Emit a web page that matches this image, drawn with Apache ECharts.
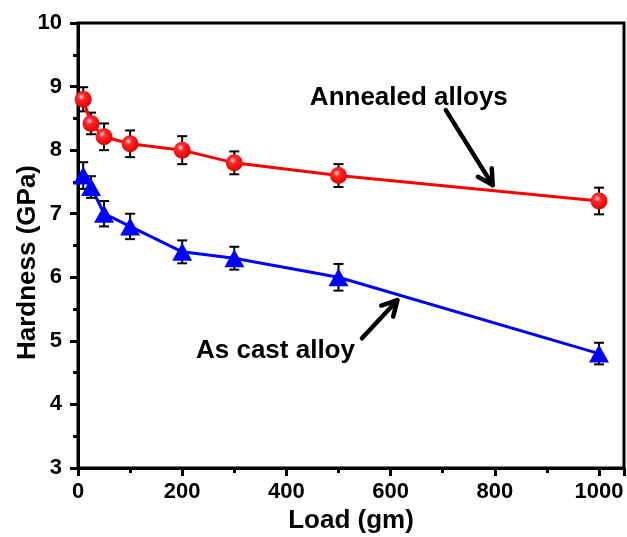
<!doctype html>
<html lang="en">
<head>
    <meta charset="UTF-8">
    <title>Hardness vs Load</title>
    <script src="https://cdn.jsdelivr.net/npm/echarts@6/dist/echarts.min.js"></script>
</head>
<body style="margin:0; background:#fff;">
<div id="main" style="width:627px; height:537px;"></div>

<script>
    // load (gm) and hardness (GPa)
    var loads = [10, 25, 50, 100, 200, 300, 500, 1000];
    var annealed = [8.8, 8.42, 8.21, 8.1, 8.0, 7.8, 7.6, 7.2];
    var annealedErr = [0.19, 0.17, 0.21, 0.21, 0.22, 0.18, 0.18, 0.21];
    var asCast = [7.6, 7.42, 7.0, 6.8, 6.4, 6.3, 6.0, 4.8];
    var asCastErr = [0.21, 0.17, 0.2, 0.2, 0.18, 0.18, 0.21, 0.17];

    // annotation arrows: [fromX, fromY, toX, toY] in data units
    var arrows = [[706, 8.63, 796, 7.45], [545, 5.04, 613, 5.64]];
    var notes = [['Annealed alloys', 635, 8.82], ['As cast alloy', 379, 4.84]];

    var font = 'Liberation Sans, Arial, sans-serif';

    function pairs(ys) {
        return loads.map(function (x, i) { return [x, ys[i]]; });
    }

    function errData(ys, es) {
        return loads.map(function (x, i) { return [x, ys[i] - es[i], ys[i] + es[i]]; });
    }

    function renderErr(params, api) {
        var lo = api.coord([api.value(0), api.value(1)]);
        var hi = api.coord([api.value(0), api.value(2)]);
        var w = 5;
        var st = {stroke: '#000', lineWidth: 2};
        return {
            type: 'group',
            children: [
                {type: 'line', shape: {x1: lo[0], y1: lo[1], x2: hi[0], y2: hi[1]}, style: st},
                {type: 'line', shape: {x1: lo[0] - w, y1: lo[1], x2: lo[0] + w, y2: lo[1]}, style: st},
                {type: 'line', shape: {x1: hi[0] - w, y1: hi[1], x2: hi[0] + w, y2: hi[1]}, style: st}
            ]
        };
    }

    function renderArrow(params, api) {
        var a = api.coord([api.value(0), api.value(1)]);
        var b = api.coord([api.value(2), api.value(3)]);
        var ang = Math.atan2(b[1] - a[1], b[0] - a[0]);
        var len = 17, spread = 0.5;
        var l = [b[0] - len * Math.cos(ang - spread), b[1] - len * Math.sin(ang - spread)];
        var r = [b[0] - len * Math.cos(ang + spread), b[1] - len * Math.sin(ang + spread)];
        var st = {stroke: '#000', lineWidth: 4.5, fill: null, lineCap: 'round', lineJoin: 'round'};
        return {
            type: 'group',
            children: [
                {type: 'line', shape: {x1: a[0], y1: a[1], x2: b[0], y2: b[1]}, style: st},
                {type: 'polyline', shape: {points: [l, b, r]}, style: st}
            ]
        };
    }

    var redBall = {
        type: 'radial', x: 0.4, y: 0.35, r: 0.65,
        colorStops: [
            {offset: 0, color: '#f4d6e4'},
            {offset: 0.3, color: '#ff2a2a'},
            {offset: 1, color: '#e00000'}
        ]
    };

    var myChart = echarts.init(document.getElementById('main'));
    myChart.setOption({
        animation: false,
        backgroundColor: '#fff',
        grid: {
            left: 78, right: 3, top: 23, bottom: 69,
            outerBoundsMode: 'none',
            show: true, borderColor: '#000', borderWidth: 3
        },
        xAxis: {
            type: 'value',
            min: 0, max: 1048, interval: 200,
            name: 'Load (gm)',
            nameLocation: 'middle',
            nameGap: 40,
            nameMoveOverlap: false,
            nameTextStyle: {fontFamily: font, fontWeight: 'bold', fontSize: 26, color: '#000'},
            axisLine: {lineStyle: {color: '#000', width: 3}},
            axisTick: {show: true, inside: false, length: 8, lineStyle: {width: 3, color: '#000'}},
            minorTick: {show: true, splitNumber: 2, length: 5, lineStyle: {width: 3, color: '#000'}},
            splitLine: {show: false},
            axisLabel: {
                fontFamily: font, fontWeight: 'bold', fontSize: 22, color: '#000', margin: 13,
                showMaxLabel: false,
                formatter: function (v) { return String(v); }
            }
        },
        yAxis: {
            type: 'value',
            min: 3, max: 10, interval: 1,
            name: 'Hardness (GPa)',
            nameLocation: 'middle',
            nameGap: 37,
            nameMoveOverlap: false,
            nameTextStyle: {
                fontFamily: font, fontWeight: 'bold', fontSize: 26, color: '#000',
                padding: [0, 34, 0, 0]
            },
            axisLine: {lineStyle: {color: '#000', width: 3}},
            axisTick: {show: true, inside: false, length: 8, lineStyle: {width: 3, color: '#000'}},
            minorTick: {show: true, splitNumber: 2, length: 5, lineStyle: {width: 3, color: '#000'}},
            splitLine: {show: false},
            axisLabel: {fontFamily: font, fontWeight: 'bold', fontSize: 22, color: '#000', margin: 16}
        },
        series: [
            {
                name: 'Annealed alloys err',
                type: 'custom',
                renderItem: renderErr,
                data: errData(annealed, annealedErr),
                z: 1
            },
            {
                name: 'As cast alloy err',
                type: 'custom',
                renderItem: renderErr,
                data: errData(asCast, asCastErr),
                z: 1
            },
            {
                name: 'Annealed alloys',
                type: 'line',
                data: pairs(annealed),
                symbol: 'circle',
                symbolSize: 17,
                itemStyle: {color: redBall, borderWidth: 0},
                lineStyle: {color: '#ff0000', width: 3},
                z: 3
            },
            {
                name: 'As cast alloy',
                type: 'line',
                data: pairs(asCast),
                symbol: 'triangle',
                symbolSize: [20, 18],
                itemStyle: {color: '#0000ff', borderWidth: 0},
                lineStyle: {color: '#0000ff', width: 3},
                z: 3
            },
            {
                name: 'arrows',
                type: 'custom',
                renderItem: renderArrow,
                data: arrows,
                z: 4
            },
            {
                name: 'notes',
                type: 'scatter',
                symbolSize: 0,
                itemStyle: {opacity: 1},
                data: notes.map(function (n) { return {name: n[0], value: [n[1], n[2]]}; }),
                label: {
                    show: true,
                    position: 'inside',
                    formatter: '{b}',
                    fontFamily: font,
                    fontWeight: 'bold',
                    fontSize: 26,
                    color: '#000'
                },
                z: 5
            }
        ]
    });
</script>
</body>
</html>
